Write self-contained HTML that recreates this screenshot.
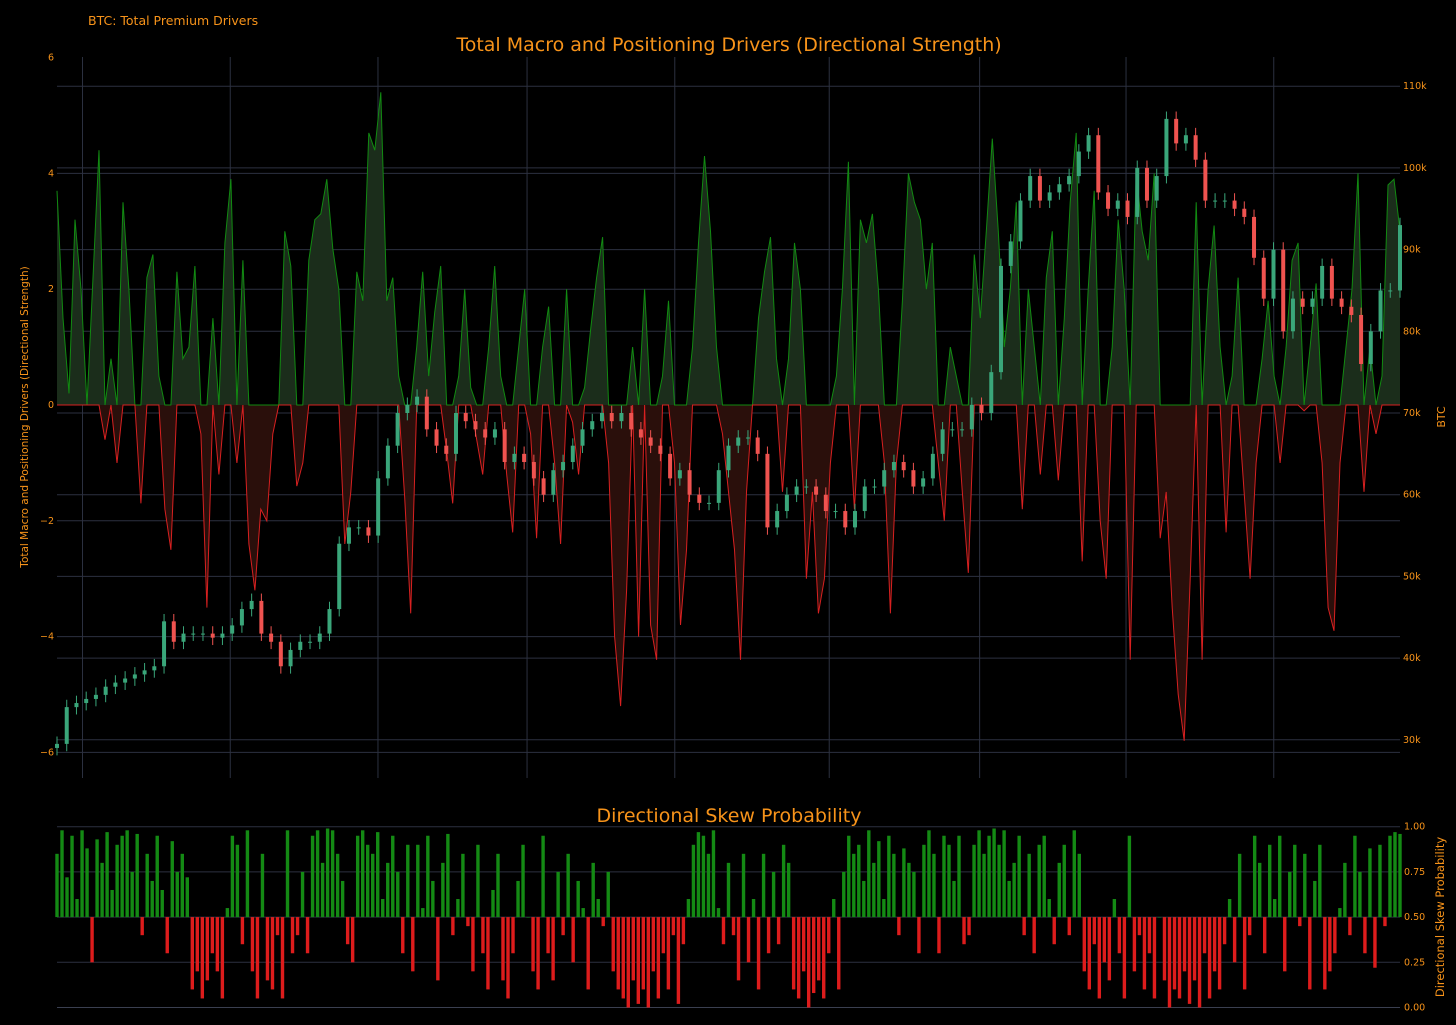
<!DOCTYPE html>
<html><head><meta charset="utf-8">
<style>
html,body{margin:0;padding:0;background:#000;}
svg{display:block;font-family:"DejaVu Sans","Liberation Sans",sans-serif;}
</style></head>
<body>
<svg id="chart" width="1456" height="1025" viewBox="0 0 1456 1025">
<rect x="0" y="0" width="1456" height="1025" fill="#000"/>
<g id="grid"></g>
<g id="drivers"></g>
<g id="candles"></g>
<g id="bars"></g>
<g id="axes"></g>
<text x="88" y="25" fill="#f7931a" font-size="12.5">BTC: Total Premium Drivers</text>
<text x="729" y="51" fill="#f7931a" font-size="19" text-anchor="middle">Total Macro and Positioning Drivers (Directional Strength)</text>
<text x="729" y="822" fill="#f7931a" font-size="19" text-anchor="middle">Directional Skew Probability</text>
<text transform="translate(28,417) rotate(-90)" fill="#f7931a" font-size="10.5" text-anchor="middle">Total Macro and Positioning Drivers (Directional Strength)</text>
<text transform="translate(1445,417) rotate(-90)" fill="#f7931a" font-size="11" text-anchor="middle">BTC</text>
<text transform="translate(1444,917) rotate(-90)" fill="#f7931a" font-size="11.5" text-anchor="middle">Directional Skew Probability</text>
</svg>
<script>
const drivers=[3.7,1.5,0.2,3.2,2.0,0,2.2,4.4,-0.6,0.8,-1.0,3.5,2.0,0,-1.7,2.2,2.6,0.5,-1.8,-2.5,
2.3,0.8,1.0,2.4,-0.5,-3.5,1.5,-1.2,2.8,3.9,-1.0,2.5,-2.4,-3.2,-1.8,-2.0,-0.5,0,3.0,2.4,
-1.4,-1.0,2.5,3.2,3.3,3.9,2.7,2.0,-2.4,-1.5,2.3,1.8,4.7,4.4,5.4,1.8,2.2,0.5,-1.6,-3.6,
1.0,2.3,0.5,1.6,2.4,-0.8,-1.7,0.5,2.0,0.3,-0.6,-1.2,1.0,2.4,0.5,-1.2,-2.2,1.0,2.0,-0.5,
-2.3,1.0,1.7,-1.0,-2.4,2.0,-0.3,-1.2,0.3,1.3,2.2,2.9,-1.0,-4.0,-5.2,-3.2,1.0,-4.0,2.0,-3.8,
-4.4,0.5,1.8,-1.0,-3.8,-2.5,1.0,2.8,4.3,3.0,1.0,-0.5,-1.5,-2.5,-4.4,-1.5,0,1.5,2.3,2.9,
0.8,-1.5,0.8,2.8,2.0,-3.0,-1.5,-3.6,-3.0,-1.0,0.5,2.0,4.2,-1.8,3.2,2.8,3.3,2.0,-1.0,-3.6,
-1.0,1.8,4.0,3.5,3.2,2.0,2.8,-1.0,-2.0,1.0,0.5,-1.5,-2.9,2.6,1.5,3.0,4.6,3.0,1.0,2.0,
3.5,-1.8,2.0,1.0,-1.2,2.2,3.0,-1.3,1.5,3.5,4.7,-2.7,2.0,3.7,-2.0,-3.0,1.0,3.2,2.0,-4.4,
4.0,3.0,2.5,4.0,-2.3,-1.5,-3.5,-5.0,-5.8,-3.0,3.5,-4.4,2.0,3.1,1.0,-2.2,0.5,2.2,-1.5,-3.0,
-1.0,0.8,1.8,0.5,-1.0,1.0,2.5,2.8,-0.1,1.0,2.1,-1.0,-3.5,-3.9,-1.0,1.0,2.0,4.0,-1.5,1.0,
-0.5,0.5,3.8,3.9,3.0];
const btcClose=[29.5,34,34.5,35,35.5,36.5,37,37.5,38,38.5,39,44.5,42,43,43,43,42.5,43,44,46,
47,43,42,39,41,42,42,43,46,54,56,56,55,62,66,70,71,72,68,66,65,70,69,68,67,68,64,65,64,62,
60,63,64,66,68,69,70,69,70,68,67,66,65,62,63,60,59,59,63,66,67,67,65,56,58,60,61,61,60,58,
58,56,58,61,61,63,64,63,61,62,65,68,68,68,71,70,75,88,91,96,99,96,97,98,99,102,104,97,95,96,
94,100,96,99,106,103,104,101,96,96,96,95,94,89,84,90,80,84,83,84,88,84,83,82,76,80,85,85,93];
const skew=[.85,.98,.72,.95,.6,.98,.88,.25,.93,.8,.97,.65,.9,.95,.98,.75,.96,
.4,.85,.7,.95,.65,.3,.92,.75,.85,.72,
.1,.2,.05,.15,.3,.2,.05,.55,
.95,.9,.35,.98,.2,.05,.85,.15,.1,.4,.05,.98,.3,.4,
.75,.3,.95,.98,.8,.99,.98,.85,.7,.35,.25,.95,.98,.9,.85,.97,.6,.8,.95,.75,.3,.9,
.2,.9,.55,.95,.7,.15,.8,.96,
.4,.6,.85,.45,.2,.9,.3,.1,.65,.85,.15,.05,.3,.7,.9,.5,.2,.1,
.95,.3,.15,.75,.4,.85,.25,.7,.55,.1,.8,.6,.45,.75,
.2,.1,.05,.0,.15,.02,.1,.0,.2,.05,.3,.1,.4,.02,.35,.6,
.9,.97,.95,.85,.98,.55,
.35,.8,.4,.15,.85,.25,.6,.1,.85,.3,.75,.35,.9,.8,
.1,.05,.2,.0,.08,.15,.05,.3,.6,.1,.75,
.95,.85,.9,.7,.98,.8,.92,.6,.95,.85,.4,.88,.8,.75,.3,.9,.98,
.85,.3,.95,.9,.7,.95,.35,.4,.9,.98,.85,.95,.99,.9,.98,.7,
.8,.95,.4,.85,.3,.9,.95,.6,.35,.8,.9,.4,.98,.85,
.2,.1,.35,.05,.25,.15,.6,.3,.05,.95,.2,.4,.1,.3,.05,.5,.15,
.0,.1,.05,.2,.02,.15,.0,.3,.05,.2,.1,.35,.6,.25,.85,.1,.4,
.95,.8,.3,.9,.6,.95,.2,.75,.9,.45,.85,.1,.7,.9,
.1,.2,.3,.55,.8,.4,.95,.75,.3,.88,.22,.9,.45,.95,.97,.96];
const leftTicks=[6,4,2,0,-2,-4,-6];
const rightTicks=[110,100,90,80,70,60,50,40,30];
const skewTicks=[1,0.75,0.5,0.25,0];
const xGridFrac=[0.019,0.129,0.239,0.35,0.46,0.575,0.687,0.796,0.906];

const NS='http://www.w3.org/2000/svg';
const X0=57,X1=1400,TOP=57,BOT=778;
function yL(v){return 405-v*57.9;}
function yR(k){return 413-(k-70)*8.17;}
function yS(p){return 1007.5-p*180.8;}
function xAt(i,n){return X0+(X1-X0)*i/(n-1);}
function mk(tag,parent,attrs){const e=document.createElementNS(NS,tag);for(const k in attrs)e.setAttribute(k,attrs[k]);parent.appendChild(e);return e;}
const grid=document.getElementById('grid'),axes=document.getElementById('axes');
const GC='#2c3140';
xGridFrac.forEach(f=>{const x=X0+(X1-X0)*f;
 const l=mk('line',grid,{x1:x,x2:x,y1:TOP,y2:BOT,stroke:GC,'stroke-width':1});
 });
leftTicks.forEach(v=>{const y=yL(v);
 if(v!==6){const l=mk('line',grid,{x1:X0,x2:X1,y1:y,y2:y,stroke:GC,'stroke-width':1});
 }
 const t=mk('text',axes,{x:X0-3,y:y+3,fill:'#f7931a','font-size':9.5,'text-anchor':'end'});t.textContent=v===0?'0':(v<0?'−'+(-v):v);
 });
rightTicks.forEach(v=>{const y=yR(v);
 const l=mk('line',grid,{x1:X0,x2:X1,y1:y,y2:y,stroke:GC,'stroke-width':1});
 
 const t=mk('text',axes,{x:X1+3,y:y+3,fill:'#f7931a','font-size':9.5});t.textContent=v+'k';
 });
skewTicks.forEach(v=>{const y=yS(v);
 const l=mk('line',grid,{x1:X0,x2:X1,y1:y,y2:y,stroke:v===0?'#3a3f50':GC,'stroke-width':1});
 
 const t=mk('text',axes,{x:X1+4,y:y+3,fill:'#f7931a','font-size':9.5});t.textContent=v.toFixed(2);
 });

const dg=document.getElementById('drivers'),n=drivers.length;
function areaPath(sel){let d='M'+X0+','+yL(0);drivers.forEach((v,i)=>{d+='L'+xAt(i,n).toFixed(1)+','+yL(sel(v)).toFixed(1);});return d+'L'+X1+','+yL(0)+'Z';}
function linePath(sel){let d='';drivers.forEach((v,i)=>{d+=(i?'L':'M')+xAt(i,n).toFixed(1)+','+yL(sel(v)).toFixed(1);});return d;}
const pa=mk('path',dg,{d:areaPath(v=>Math.max(v,0)),fill:'#1b2d1b'});

const na=mk('path',dg,{d:areaPath(v=>Math.min(v,0)),fill:'#2a0f0b'});

const pl=mk('path',dg,{d:linePath(v=>Math.max(v,0)),fill:'none',stroke:'#118a11','stroke-width':1});

const nl=mk('path',dg,{d:linePath(v=>Math.min(v,0)),fill:'none',stroke:'#d82020','stroke-width':1});


const cg=document.getElementById('candles'),m=btcClose.length;
btcClose.forEach((c,i)=>{const o=i?btcClose[i-1]:c-0.5;const hi=Math.max(o,c)+0.9,lo=Math.min(o,c)-0.9;
 const x=xAt(i,m),up=c>=o,col=up?'#3aa67a':'#ef5350';
 const w=mk('line',cg,{x1:x,x2:x,y1:yR(hi),y2:yR(lo),stroke:col,'stroke-width':1});
 
 const yt=yR(Math.max(o,c)),yb=yR(Math.min(o,c));
 const r=mk('rect',cg,{x:x-2,y:yt,width:4,height:Math.max(1,yb-yt),fill:col});
 });

const bg=document.getElementById('bars'),k=skew.length;
skew.forEach((p,i)=>{const x=xAt(i,k);const y0=yS(0.5),y1=yS(p);
 const r=mk('rect',bg,{x:x-1.7,y:Math.min(y0,y1),width:3.4,height:Math.max(0.5,Math.abs(y1-y0)),fill:p>=0.5?'#148a14':'#dd1c1c'});
 });
</script>
</body></html>
